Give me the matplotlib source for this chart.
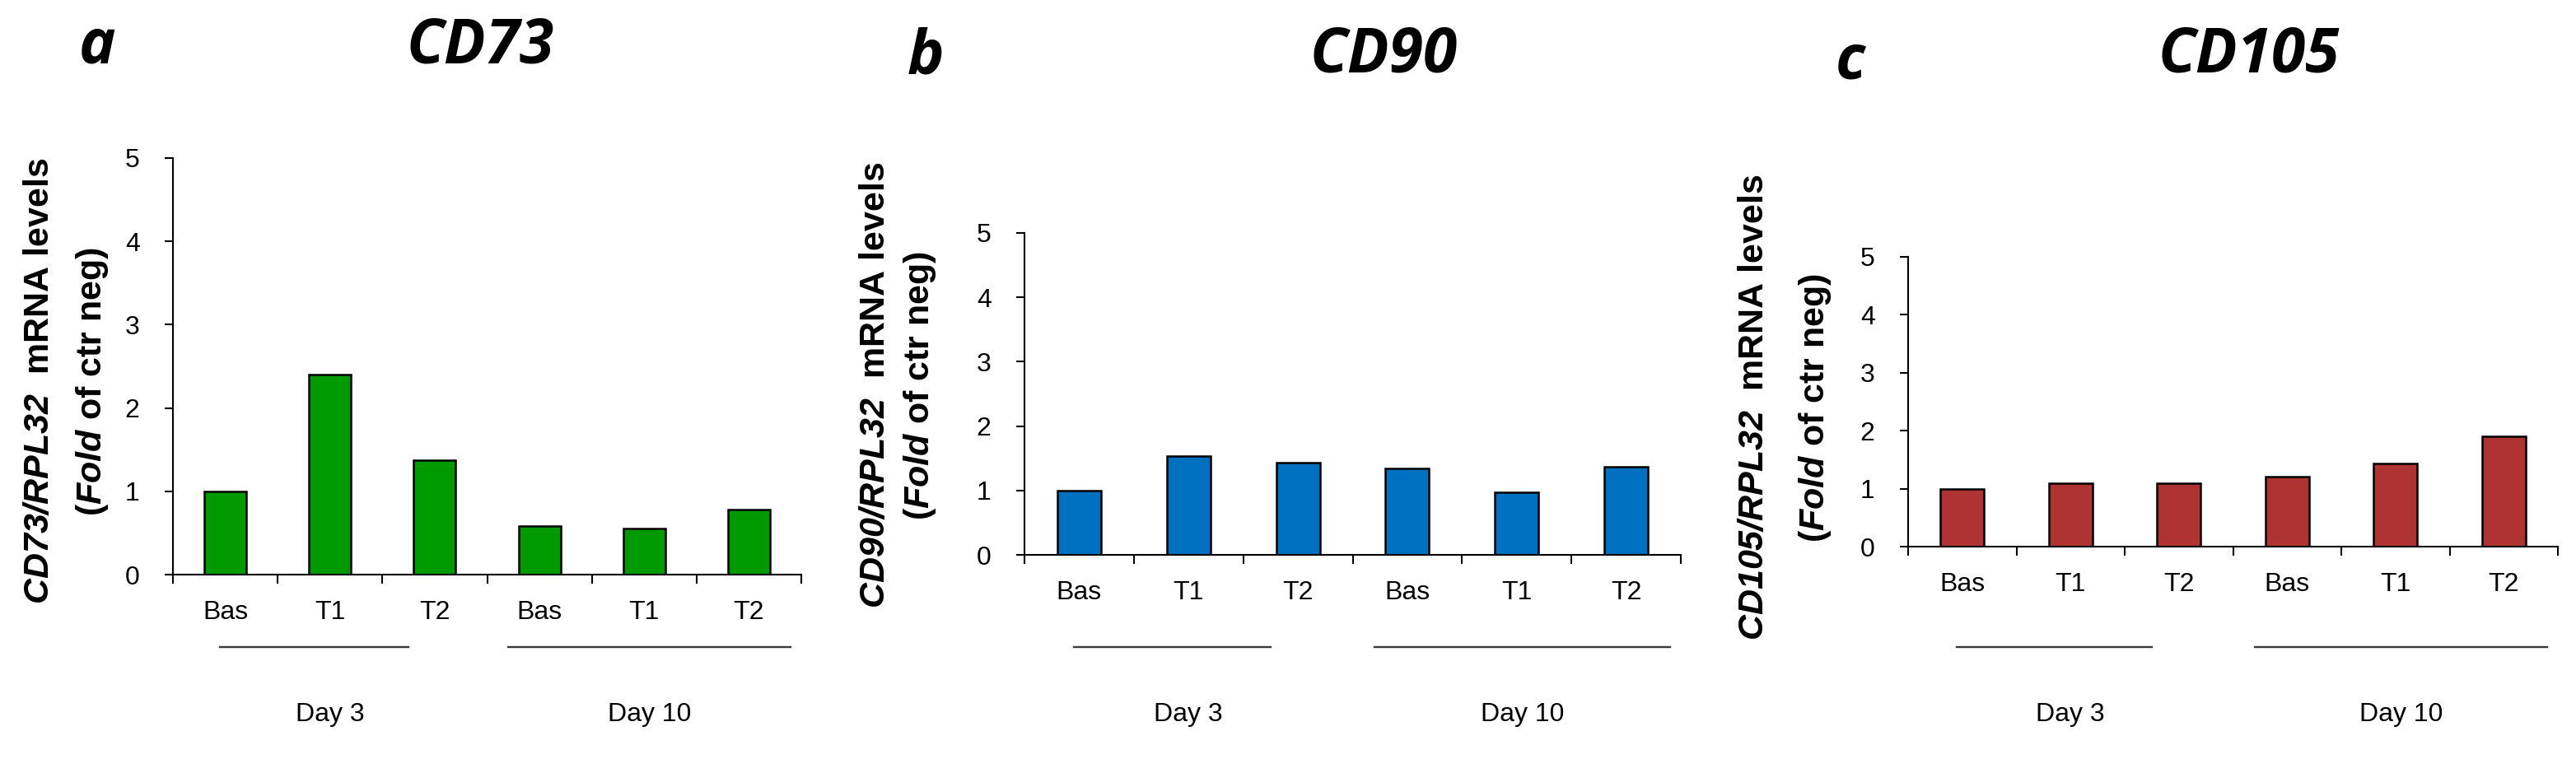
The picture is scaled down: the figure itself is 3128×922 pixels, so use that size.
import matplotlib
matplotlib.use("Agg")
import matplotlib.pyplot as plt
import matplotlib.transforms as mtransforms
import numpy as np

plt.rcParams['mathtext.fontset'] = 'custom'
plt.rcParams['mathtext.bfit'] = 'Liberation Sans:italic:bold'
plt.rcParams['mathtext.bf'] = 'Liberation Sans:bold'

# data
categories = ["Bas", "T1", "T2", "Bas", "T1", "T2"]
groups = ["Day 3", "Day 10"]
cd73 = [1.0, 2.40, 1.37, 0.58, 0.555, 0.78]
cd90 = [1.0, 1.54, 1.435, 1.34, 0.97, 1.37]
cd105 = [1.0, 1.10, 1.10, 1.21, 1.43, 1.90]

panels = [
    ("a", "CD73", cd73, "#009900"),
    ("b", "CD90", cd90, "#0070C0"),
    ("c", "CD105", cd105, "#B03333"),
]

W, H = 3128, 922
fig = plt.figure(figsize=(W / 100, H / 100), dpi=100)

# axes boxes in pixels: left, right, y of 0, y of 5
boxes = [(210, 973, 698, 192), (1244, 2041, 674, 283), (2317, 3106, 664, 312)]
# ylabel line x positions, ylabel centre y
ylab_pos = [(48, 112, 463), (1063, 1117, 468), (2130, 2204, 495)]
letter_pos = [(118, 57), (1124, 70), (2247, 76)]
title_x = [583, 1680, 2731]
title_y = [57, 68, 68]

tick_font = 'Liberation Sans'
x = np.arange(len(categories)) + 0.5

for i, (letter, gene, vals, col) in enumerate(panels):
    l, r, y0, y5 = boxes[i]
    ax = fig.add_axes([l / W, 1 - y0 / H, (r - l) / W, (y0 - y5) / H])
    ax.bar(x, vals, width=0.4, color=col, edgecolor='black', linewidth=1.8, zorder=3)
    ax.set_xlim(0, 6)
    ax.set_ylim(0, 5)
    for s in ['top', 'right']:
        ax.spines[s].set_visible(False)
    for s in ['left', 'bottom']:
        ax.spines[s].set_linewidth(1.5)
    ax.spines['bottom'].set_zorder(4)
    ax.set_xticks(range(7))
    ax.set_xticklabels([])
    ax.set_xticks(x, minor=True)
    ax.set_xticklabels(categories, minor=True, fontsize=23, family=tick_font)
    ax.tick_params(axis='x', which='major', length=8, width=1.5, direction='out')
    ax.tick_params(axis='x', which='minor', length=0, pad=22)
    ax.set_yticks(range(6))
    ax.set_yticklabels([str(v) for v in range(6)], fontsize=23, family=tick_font)
    ax.tick_params(axis='y', length=7, width=1.5, pad=22)

    # group brackets and day labels
    trans = mtransforms.blended_transform_factory(ax.transData, fig.transFigure)
    ax.plot([0.45, 2.25], [1 - 786 / H] * 2, color='#3a3a3a', lw=1.7, transform=trans, clip_on=False)
    ax.plot([3.2, 5.9], [1 - 786 / H] * 2, color='#3a3a3a', lw=1.7, transform=trans, clip_on=False)
    ax.text(1.5, 1 - 868 / H, groups[0], transform=trans, ha='center', va='center',
            fontsize=23, family=tick_font)
    ax.text(4.55, 1 - 868 / H, groups[1], transform=trans, ha='center', va='center',
            fontsize=23, family=tick_font)

    # y label, two lines
    lx1, lx2, ly = ylab_pos[i]
    fig.text(lx1 / W, 1 - ly / H, r"$\mathbfit{%s/RPL32}$  mRNA levels" % gene,
             rotation=90, ha='center', va='center', fontsize=31,
             family='Liberation Sans', fontweight='bold')
    fig.text(lx2 / W, 1 - ly / H, r"($\mathbfit{Fold}$ of ctr neg)",
             rotation=90, ha='center', va='center', fontsize=31,
             family='Liberation Sans', fontweight='bold')

    # titles
    fig.text(letter_pos[i][0] / W, 1 - letter_pos[i][1] / H, letter, ha='center', va='center',
             fontsize=54, family='Open Sans', fontweight='bold', style='italic')
    fig.text(title_x[i] / W, 1 - title_y[i] / H, gene, ha='center', va='center',
             fontsize=54, family='Open Sans', fontweight='bold', style='italic')

fig.savefig("out.png", dpi=100, facecolor='white')
